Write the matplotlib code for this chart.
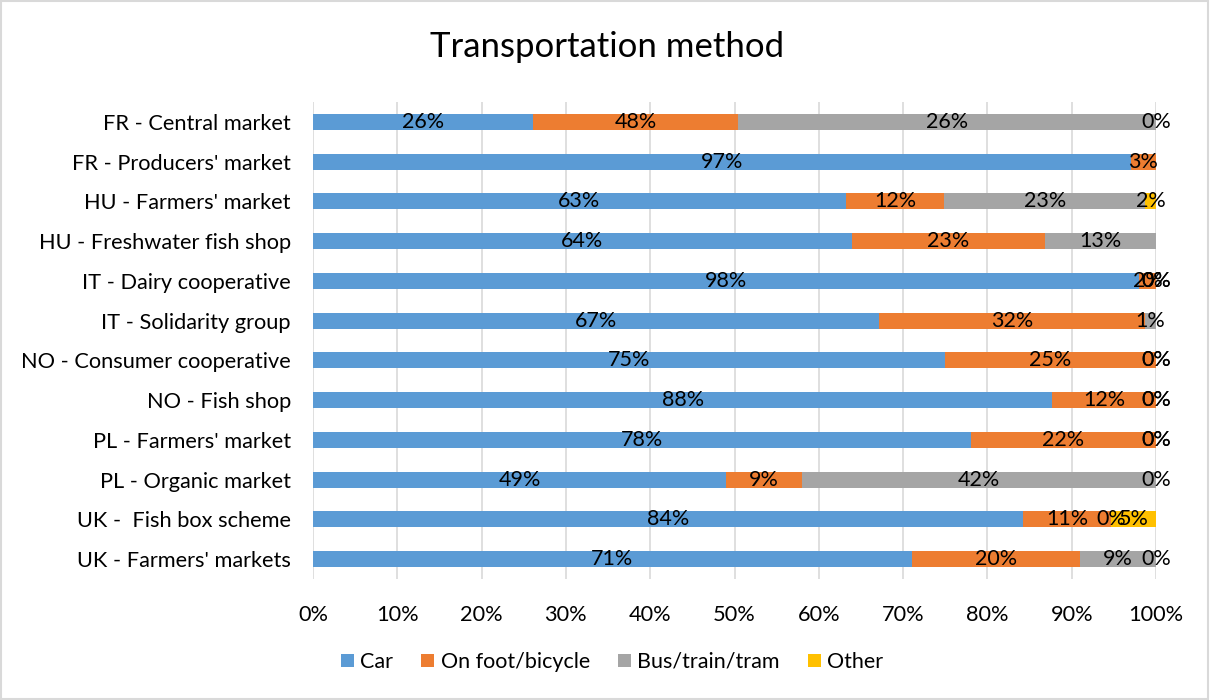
import numpy as np
import matplotlib
matplotlib.use('Agg')
import matplotlib.pyplot as plt
from matplotlib.patches import Rectangle

plt.rcParams['font.family'] = ['Lato', 'DejaVu Sans']

# DATOS

categorias = [
    "FR - Central market",
    "FR - Producers' market",
    "HU - Farmers' market",
    "HU - Freshwater fish shop",
    "IT - Dairy cooperative",
    "IT - Solidarity group",
    "NO - Consumer cooperative",
    "NO - Fish shop",
    "PL - Farmers' market",
    "PL - Organic market",
    "UK -  Fish box scheme",
    "UK - Farmers' markets",
]

series = ['Car', 'On foot/bicycle', 'Bus/train/tram', 'Other']

# longitud de cada segmento (%)
car   = [26.1, 97.0, 63.2, 63.9, 98.0, 67.1, 75.0, 87.7, 78.0, 49.0, 84.2, 71.0]
foot  = [24.3,  3.0, 11.7, 22.9,  2.0, 31.6, 25.0, 12.3, 22.0,  9.0, 10.5, 20.0]
bus   = [49.6,  0.0, 23.8, 13.2,  0.0,  1.3,  0.0,  0.0,  0.0, 42.0,  0.0,  9.0]
other = [ 0.0,  0.0,  1.3,  0.0,  0.0,  0.0,  0.0,  0.0,  0.0,  0.0,  5.3,  0.0]

# etiquetas de datos tal como aparecen (None = sin etiqueta)
lab_car   = ['26%', '97%', '63%', '64%', '98%', '67%', '75%', '88%', '78%', '49%', '84%', '71%']
lab_foot  = ['48%', '3%', '12%', '23%', '2%', '32%', '25%', '12%', '22%', '9%', '11%', '20%']
lab_bus   = ['26%', None, '23%', '13%', '0%', '1%', '0%', '0%', '0%', '42%', '0%', '9%']
lab_other = ['0%', None, '2%', None, '0%', None, '0%', '0%', '0%', '0%', '5%', '0%']

colores = ['#5B9BD5', '#ED7D31', '#A5A5A5', '#FFC000']
ticks_x = np.arange(0, 101, 10)


# FIGURA

fig = plt.figure(figsize=(12.1, 7.0), dpi=100)
ax = fig.add_axes([313 / 1210, 1 - 579 / 700, 843 / 1210, 477 / 700])

y = np.arange(len(categorias))
valores = [np.array(car), np.array(foot), np.array(bus), np.array(other)]
etiquetas = [lab_car, lab_foot, lab_bus, lab_other]

izq = np.zeros(len(categorias))
for vals, labs, color, nombre in zip(valores, etiquetas, colores, series):
    ax.barh(y, vals, left=izq, height=0.4, color=color, label=nombre, zorder=3)
    for i, (v, t) in enumerate(zip(vals, labs)):
        if t is None:
            continue
        ax.text(izq[i] + v / 2, y[i], t, ha='center', va='center',
                fontsize=15.5, color='black', zorder=4)
    izq = izq + vals

ax.set_xlim(0, 100)
ax.set_ylim(len(categorias) - 0.5, -0.5)
ax.set_xticks(ticks_x)
ax.set_xticklabels([f'{t}%' for t in ticks_x])
ax.set_yticks(y)
ax.set_yticklabels(categorias)
ax.tick_params(axis='both', length=0, labelsize=15.7, colors='black')
ax.tick_params(axis='x', pad=19)
ax.tick_params(axis='y', pad=16)
ax.grid(axis='x', color='#D9D9D9', linewidth=1.2, zorder=0)
for s in ax.spines.values():
    s.set_visible(False)

fig.text(607 / 1210, 1 - 47 / 700, 'Transportation method', ha='center', va='center',
         fontsize=25, color='black')

fig.legend(loc='center', bbox_to_anchor=(612 / 1210, 1 - 662 / 700), ncol=4,
           frameon=False, fontsize=15.5, handlelength=0.6, handleheight=0.6,
           handletextpad=0.3, columnspacing=1.3)

fig.patches.append(Rectangle((0.001, 0.001), 0.997, 0.997, transform=fig.transFigure,
                             fill=False, edgecolor='#D9D9D9', linewidth=1.5))

fig.savefig('out.png', dpi=100)
